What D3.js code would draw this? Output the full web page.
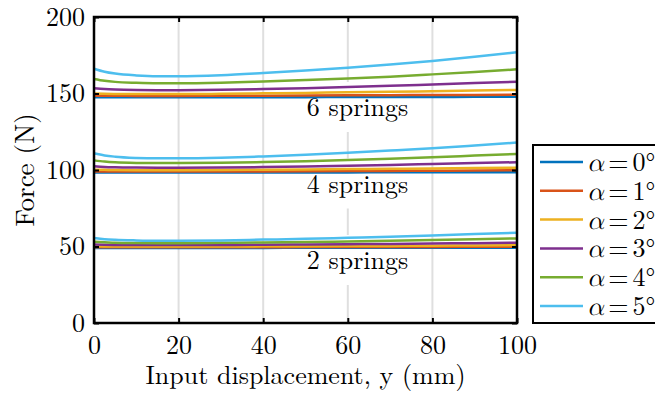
<!DOCTYPE html>
<html>
<head>
<meta charset="utf-8">
</head>
<body style="margin:0; background:#fff">
<div id="chart"></div>
<script src="https://d3js.org/d3.v7.min.js"></script>
<script>
    // input displacement samples (mm)
    var disp = [0, 2.5, 5, 10, 15, 20, 30, 40, 50, 60, 70, 80, 90, 100];

    var angles = [0, 1, 2, 3, 4, 5];
    var colors = ["#0072BD", "#D95319", "#EDB120", "#7E2F8E", "#77AC30", "#4DBEEE"];

    // 6 springs, one row per angle
    var force6 = [
        [147.5,147.5,147.5,147.5,147.5,147.5,147.6,147.6,147.6,147.7,147.7,147.7,147.8,147.8],
        [148.6,148.5,148.5,148.4,148.4,148.4,148.5,148.6,148.7,148.8,148.9,149.0,149.1,149.2],
        [150.0,149.8,149.7,149.6,149.6,149.6,149.8,150.1,150.4,150.8,151.1,151.5,151.9,152.3],
        [153.4,152.9,152.6,152.3,152.2,152.2,152.4,152.9,153.5,154.2,155.0,155.9,156.8,157.7],
        [159.5,158.3,157.6,157.0,156.7,156.7,157.1,157.9,158.8,159.8,161.0,162.5,164.1,165.8],
        [166.2,164.2,163.0,161.8,161.3,161.3,162.0,163.4,165.0,166.9,169.0,171.3,174.0,177.0]
    ];
    // 4 springs
    var force4 = [
        [98.3,98.3,98.3,98.3,98.3,98.3,98.4,98.4,98.4,98.4,98.5,98.5,98.5,98.5],
        [99.1,99.0,99.0,99.0,99.0,99.0,99.0,99.1,99.2,99.3,99.4,99.5,99.6,99.8],
        [100.2,100.1,100.0,99.9,99.9,99.9,100.0,100.2,100.4,100.6,100.8,101.0,101.3,101.5],
        [102.4,102.0,101.8,101.6,101.5,101.5,101.6,101.9,102.3,102.8,103.3,103.9,104.5,105.1],
        [106.3,105.5,105.0,104.6,104.5,104.5,104.7,105.2,105.8,106.5,107.3,108.3,109.4,110.5],
        [110.9,109.5,108.7,107.9,107.6,107.6,108.0,108.9,110.0,111.3,112.7,114.2,116.0,117.9]
    ];
    // 2 springs
    var force2 = [
        [49.1,49.1,49.1,49.1,49.1,49.1,49.1,49.1,49.2,49.2,49.2,49.2,49.2,49.2],
        [49.5,49.5,49.5,49.5,49.5,49.5,49.5,49.5,49.6,49.6,49.7,49.7,49.8,49.9],
        [50.1,50.0,50.0,50.0,50.0,50.0,50.0,50.1,50.2,50.3,50.4,50.5,50.7,50.8],
        [51.3,51.1,51.0,50.9,50.9,50.9,51.0,51.1,51.3,51.5,51.7,52.0,52.2,52.5],
        [53.1,52.8,52.5,52.3,52.2,52.2,52.4,52.6,52.9,53.3,53.7,54.2,54.7,55.3],
        [55.5,54.8,54.4,54.0,53.8,53.8,54.0,54.5,55.0,55.7,56.4,57.2,58.1,59.0]
    ];

    var groupLabels = ["6 springs", "4 springs", "2 springs"];
    var groupLevels = [150, 100, 50];

    var xTicks = [0, 20, 40, 60, 80, 100];
    var yTicks = [0, 50, 100, 150, 200];

    var W = 655, H = 393;
    var margin = {left: 94, top: 17, right: 138, bottom: 70};
    var iw = W - margin.left - margin.right;
    var ih = H - margin.top - margin.bottom;
    var font = "Latin Modern Roman";
    var fs = "26px";

    var svg = d3.select("#chart").append("svg")
        .attr("width", W)
        .attr("height", H)
        .attr("font-family", font);

    var x = d3.scaleLinear().domain([0, 100]).range([margin.left, margin.left + iw]);
    var y = d3.scaleLinear().domain([0, 200]).range([margin.top + ih, margin.top]);

    // vertical grid
    svg.append("g").selectAll("line")
        .data(xTicks.slice(1, -1))
        .enter().append("line")
        .attr("x1", function(d){ return x(d); })
        .attr("x2", function(d){ return x(d); })
        .attr("y1", y(200))
        .attr("y2", y(0))
        .attr("stroke", "#dfdfdf")
        .attr("stroke-width", 2);

    // group labels with white background
    var lab = svg.append("g").selectAll("g")
        .data(groupLabels)
        .enter().append("g");
    lab.append("rect").attr("fill", "#fff");
    lab.append("text")
        .attr("x", x(62.3))
        .attr("y", function(d, i){ return y(groupLevels[i]) + 22.5; })
        .attr("text-anchor", "middle")
        .style("font-family", font)
        .style("font-size", fs)
        .text(function(d){ return d; });
    lab.each(function(){
        var g = d3.select(this);
        var bb = g.select("text").node().getBBox();
        g.select("rect")
            .attr("x", bb.x - 6).attr("y", bb.y - 5)
            .attr("width", bb.width + 12).attr("height", bb.height + 13);
    });

    var line = d3.line()
        .x(function(d, i){ return x(disp[i]); })
        .y(function(d){ return y(d); })
        .curve(d3.curveMonotoneX);

    var curves = svg.append("g");
    [force2, force4, force6].forEach(function(set){
        set.forEach(function(vals, k){
            curves.append("path")
                .attr("d", line(vals))
                .attr("fill", "none")
                .attr("stroke", colors[k])
                .attr("stroke-width", 2.5);
        });
    });

    // axes, ticks pointing inward on all four sides
    svg.append("g").attr("transform", "translate(0," + y(0) + ")")
        .call(d3.axisBottom(x).tickValues(xTicks).tickSize(-5).tickPadding(13));
    svg.append("g").attr("transform", "translate(0," + y(200) + ")")
        .call(d3.axisTop(x).tickValues(xTicks).tickSize(-5).tickFormat(""));
    svg.append("g").attr("transform", "translate(" + x(0) + ",0)")
        .call(d3.axisLeft(y).tickValues(yTicks).tickSize(-5).tickPadding(9));
    svg.append("g").attr("transform", "translate(" + x(100) + ",0)")
        .call(d3.axisRight(y).tickValues(yTicks).tickSize(-5).tickFormat(""));

    svg.selectAll(".domain").remove();
    svg.selectAll(".tick line").attr("stroke", "#000").attr("stroke-width", 2);
    svg.selectAll("g").attr("font-family", font).attr("font-size", fs);
    svg.selectAll(".tick text")
        .style("font-family", font)
        .style("font-size", fs);

    svg.append("rect")
        .attr("x", x(0)).attr("y", y(200))
        .attr("width", x(100) - x(0)).attr("height", y(0) - y(200))
        .attr("fill", "none")
        .attr("stroke", "#000")
        .attr("stroke-width", 2.5);

    // axis titles
    svg.append("text")
        .attr("x", (x(0) + x(100)) / 2)
        .attr("y", 384)
        .attr("text-anchor", "middle")
        .style("font-family", font)
        .style("font-size", fs)
        .text("Input displacement, y (mm)");

    svg.append("text")
        .attr("transform", "translate(34," + y(100) + ") rotate(-90)")
        .attr("text-anchor", "middle")
        .style("font-family", font)
        .style("font-size", "27px")
        .text("Force (N)");

    // legend (runs off the right edge, as in the original)
    var leg = svg.append("g");
    leg.append("rect")
        .attr("x", 533).attr("y", 145)
        .attr("width", 140).attr("height", 178)
        .attr("fill", "#fff")
        .attr("stroke", "#000")
        .attr("stroke-width", 2);

    var item = leg.selectAll("g.item")
        .data(angles)
        .enter().append("g")
        .attr("class", "item")
        .attr("transform", function(d, i){ return "translate(0," + (162 + i * 28.8) + ")"; });
    item.append("line")
        .attr("x1", 540).attr("x2", 583)
        .attr("stroke", function(d, i){ return colors[i]; })
        .attr("stroke-width", 2.5);
    var t = item.append("text")
        .attr("x", 587)
        .attr("y", 9)
        .style("font-family", font)
        .style("font-size", fs);
    t.append("tspan")
        .style("font-family", '"Latin Modern Math", "Latin Modern Roman", "DejaVu Serif"')
        .style("font-style", "italic")
        .text("α");
    t.append("tspan").attr("dx", 4.5).text("=");
    t.append("tspan").attr("dx", 4).text(function(d){ return d + "°"; });
</script>
</body>
</html>
